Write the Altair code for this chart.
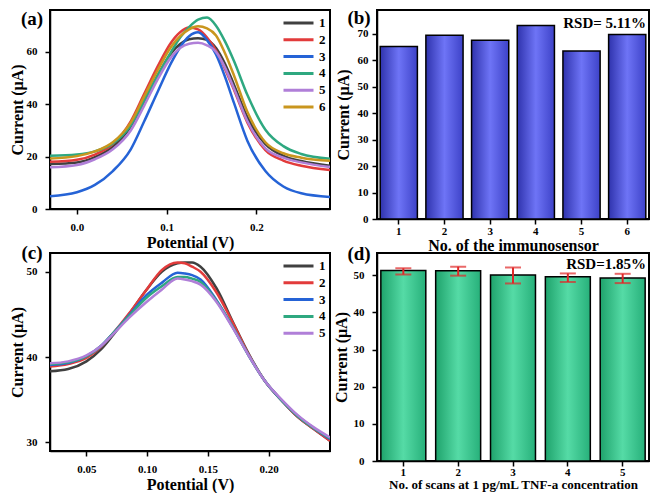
import altair as alt
import pandas as pd

FONT = "Liberation Serif"

# ---------------- Panel (a): DPV curves of six immunosensors ----------------
a_potential = [-0.03, 0.0, 0.02, 0.04, 0.06, 0.075, 0.09, 0.105, 0.115, 0.125,
               0.135, 0.145, 0.155, 0.165, 0.175, 0.19, 0.21, 0.23, 0.25, 0.282]
a_s1 = [17.2, 17.8, 19.8, 23.8, 31.5, 41.0, 51.0, 59.5, 63.0, 64.8,
        65.2, 64.6, 61.5, 55.5, 47.5, 35.0, 24.8, 20.3, 18.3, 16.5]
a_s2 = [18.0, 18.8, 20.8, 24.8, 33.5, 44.0, 54.5, 63.6, 67.5, 69.3,
        68.6, 65.5, 60.5, 53.5, 45.5, 33.0, 22.5, 18.5, 16.5, 14.9]
a_s3 = [4.9, 6.4, 9.2, 14.5, 22.8, 33.5, 44.8, 55.8, 61.8, 66.0,
        67.5, 64.5, 59.0, 50.5, 40.5, 26.0, 14.5, 8.6, 6.0, 4.6]
a_s4 = [20.3, 20.8, 22.0, 25.0, 32.0, 41.5, 51.0, 60.0, 65.5, 69.5,
        72.3, 73.1, 70.0, 64.0, 56.5, 43.5, 30.3, 24.0, 21.0, 19.2]
a_s5 = [15.9, 16.8, 19.0, 22.8, 30.0, 39.5, 49.5, 58.0, 61.5, 63.1,
        63.5, 62.5, 60.0, 54.0, 46.0, 33.5, 23.2, 19.6, 17.8, 16.0]
a_s6 = [19.3, 20.2, 22.0, 25.5, 33.0, 43.0, 53.0, 62.0, 66.0, 68.6,
        69.8, 69.0, 66.3, 59.5, 51.0, 37.0, 25.5, 21.3, 19.6, 18.4]
a_names = ["1", "2", "3", "4", "5", "6"]
a_colors = ["#404040", "#e23b3b", "#2563d6", "#2ea880", "#b07fd8", "#c9961e"]

# ---------------- Panel (b): peak currents of six immunosensors ----------------
b_sensor = ["1", "2", "3", "4", "5", "6"]
b_current = [65.2, 69.5, 67.6, 73.1, 63.5, 69.7]

# ---------------- Panel (c): DPV curves of five scans ----------------
c_potential = [0.02, 0.035, 0.05, 0.062, 0.072, 0.085, 0.099, 0.112, 0.125, 0.131,
               0.137, 0.144, 0.157, 0.171, 0.184, 0.197, 0.211, 0.224, 0.237, 0.2506]
c_s1 = [38.33, 38.6, 39.5, 40.9, 42.6, 45.0, 47.8, 50.0, 51.0, 51.1,
        51.1, 50.6, 48.1, 44.0, 40.3, 37.2, 34.9, 33.0, 31.6, 30.2]
c_s2 = [38.9, 39.2, 39.9, 41.2, 42.8, 45.1, 47.8, 50.2, 51.1, 51.0,
        50.6, 50.0, 47.6, 43.9, 40.2, 37.2, 34.9, 33.0, 31.6, 30.2]
c_s3 = [39.07, 39.3, 40.1, 41.3, 42.8, 44.9, 47.2, 48.7, 49.9, 49.8,
        49.6, 49.1, 46.7, 43.4, 40.1, 37.2, 34.9, 33.1, 31.7, 30.4]
c_s4 = [39.2, 39.4, 40.1, 41.3, 42.8, 44.8, 46.9, 48.3, 49.4, 49.4,
        49.2, 48.8, 46.6, 43.4, 40.1, 37.2, 34.9, 33.1, 31.7, 30.5]
c_s5 = [39.27, 39.5, 40.2, 41.3, 42.7, 44.6, 46.4, 47.9, 49.2, 49.1,
        48.9, 48.5, 46.5, 43.3, 40.1, 37.2, 35.0, 33.2, 31.8, 30.6]
c_names = ["1", "2", "3", "4", "5"]
c_colors = ["#404040", "#e23b3b", "#2563d6", "#2ea880", "#b07fd8"]

# ---------------- Panel (d): repeated scans ----------------
d_scan = ["1", "2", "3", "4", "5"]
d_current = [51.3, 51.2, 50.1, 49.6, 49.3]
d_err_low = [50.2, 49.9, 47.8, 48.2, 47.9]
d_err_high = [51.9, 52.3, 52.1, 50.5, 50.4]

# ---------------- tables ----------------
def long_table(xs, series, names):
    rows = []
    for name, ys in zip(names, series):
        for x, y in zip(xs, ys):
            rows.append({"potential": x, "current": y, "series": name})
    return pd.DataFrame(rows)

df_a = long_table(a_potential, [a_s1, a_s2, a_s3, a_s4, a_s5, a_s6], a_names)
df_c = long_table(c_potential, [c_s1, c_s2, c_s3, c_s4, c_s5], c_names)
df_b = pd.DataFrame({"sensor": b_sensor, "current": b_current})
df_d = pd.DataFrame({"scan": d_scan, "current": d_current,
                     "lo": d_err_low, "hi": d_err_high})

W1, W2 = 280, 272
HA, HB, HC, HD = 199, 209, 198, 208


def legend(x):
    return alt.Legend(title=None, orient="none", legendX=x, legendY=7,
                      symbolType="stroke", symbolSize=900, symbolStrokeWidth=3,
                      clipHeight=12, rowPadding=3.8, labelFont=FONT,
                      labelFontSize=13, labelFontWeight="bold", labelColor="black",
                      labelOffset=4, padding=0, symbolOffset=0)


def panel_label(text, x, y):
    return alt.Chart(pd.DataFrame({"t": [text]})).mark_text(
        font=FONT, fontSize=19, fontWeight="bold", align="center",
        baseline="middle", color="black").encode(
        text="t:N", x=alt.value(x), y=alt.value(y))


def corner_text(text, w, y):
    return alt.Chart(pd.DataFrame({"t": [text]})).mark_text(
        font=FONT, fontSize=15, fontWeight="bold", align="right",
        baseline="middle", color="black").encode(
        text="t:N", x=alt.value(w - 3), y=alt.value(y))


def line_xaxis(values, fmt):
    return alt.Axis(values=values, format=fmt, title="Potential (V)",
                    labelPadding=7, titlePadding=2)


def yaxis(values, lp, tp):
    return alt.Axis(values=values, title="Current (μA)", labelPadding=lp, titlePadding=tp)


# (a)
lines_a = alt.Chart(df_a).mark_line(strokeWidth=2.5, interpolate="monotone", clip=True).encode(
    x=alt.X("potential:Q", scale=alt.Scale(domain=[-0.03, 0.282], nice=False, zero=False),
            axis=line_xaxis([0.0, 0.1, 0.2], ".1f")),
    y=alt.Y("current:Q", scale=alt.Scale(domain=[0, 76], nice=False),
            axis=yaxis([0, 20, 40, 60], 8, 1)),
    color=alt.Color("series:N", scale=alt.Scale(domain=a_names, range=a_colors),
                    legend=legend(W1 - 48)),
)
pa = alt.layer(lines_a, panel_label("(a)", -18, 9)).properties(width=W1, height=HA)

# (b)
blue_grad = alt.Gradient(gradient="linear", x1=0, x2=1, y1=0, y2=0, stops=[
    alt.GradientStop(color="#2f33ad", offset=0),
    alt.GradientStop(color="#6e74f6", offset=0.5),
    alt.GradientStop(color="#3d42c8", offset=1)])
bars_b = alt.Chart(df_b).mark_bar(color=blue_grad, stroke="black", strokeWidth=1.5).encode(
    x=alt.X("sensor:N", scale=alt.Scale(paddingInner=0.186, paddingOuter=0.07),
            axis=alt.Axis(labelAngle=0, title="No. of the immunosensor",
                          labelPadding=1, titlePadding=1)),
    y=alt.Y("current:Q", scale=alt.Scale(domain=[0, 79], nice=False),
            axis=yaxis([0, 10, 20, 30, 40, 50, 60, 70], 4, 6)),
)
pb = alt.layer(bars_b, panel_label("(b)", -18, 8),
               corner_text("RSD= 5.11%", W2, 13)).properties(width=W2, height=HB)

# (c)
lines_c = alt.Chart(df_c).mark_line(strokeWidth=2.5, interpolate="monotone", clip=True).encode(
    x=alt.X("potential:Q", scale=alt.Scale(domain=[0.02, 0.2506], nice=False, zero=False),
            axis=line_xaxis([0.05, 0.10, 0.15, 0.20], ".2f")),
    y=alt.Y("current:Q", scale=alt.Scale(domain=[29, 52.2], nice=False, zero=False),
            axis=yaxis([30, 40, 50], 8, 1)),
    color=alt.Color("series:N", scale=alt.Scale(domain=c_names, range=c_colors),
                    legend=legend(W1 - 48)),
)
pc = alt.layer(lines_c, panel_label("(c)", -18, 0)).properties(width=W1, height=HC)

# (d)
green_grad = alt.Gradient(gradient="linear", x1=0, x2=1, y1=0, y2=0, stops=[
    alt.GradientStop(color="#1fa36c", offset=0),
    alt.GradientStop(color="#55dba6", offset=0.5),
    alt.GradientStop(color="#27b07a", offset=1)])
xd = alt.X("scan:N", scale=alt.Scale(paddingInner=0.18, paddingOuter=0.07),
           axis=alt.Axis(labelAngle=0, title="No. of scans at 1 pg/mL TNF-a concentration",
                         titleFontSize=13, labelPadding=0, titlePadding=1))
yd_scale = alt.Scale(domain=[0, 56], nice=False)
bars_d = alt.Chart(df_d).mark_bar(color=green_grad, stroke="black", strokeWidth=1.5).encode(
    x=xd,
    y=alt.Y("current:Q", scale=yd_scale, axis=yaxis([0, 10, 20, 30, 40, 50], 8, 4)),
)
err_d = alt.Chart(df_d).mark_rule(color="#e02828", strokeWidth=2).encode(
    x=xd, y=alt.Y("lo:Q", scale=yd_scale), y2="hi:Q")
cap_lo = alt.Chart(df_d).mark_tick(color="#e02828", thickness=2, size=16).encode(
    x=xd, y=alt.Y("lo:Q", scale=yd_scale))
cap_hi = alt.Chart(df_d).mark_tick(color="#e02828", thickness=2, size=16).encode(
    x=xd, y=alt.Y("hi:Q", scale=yd_scale))
pd_ = alt.layer(bars_d, err_d, cap_lo, cap_hi, panel_label("(d)", -18, 1),
                corner_text("RSD=1.85%", W2, 11)).properties(width=W2, height=HD)

chart = alt.concat(pa, pb, pc, pd_, columns=2, bounds="flush",
                   spacing={"row": 34, "column": 47}).resolve_scale(
    x="independent", y="independent", color="independent").resolve_legend(
    color="independent").properties(padding=0).configure_view(
    stroke="black", strokeWidth=2).configure_axis(
    grid=False, labelFont=FONT, labelFontSize=11, labelFontWeight="bold",
    labelColor="black", titleFont=FONT, titleFontSize=16, titleFontWeight="bold",
    titleColor="black", domainColor="black", domainWidth=1.5, tickColor="black",
    tickWidth=1.5, tickSize=5)

chart.save("out.html", embed_options={"renderer": "svg", "actions": False})
